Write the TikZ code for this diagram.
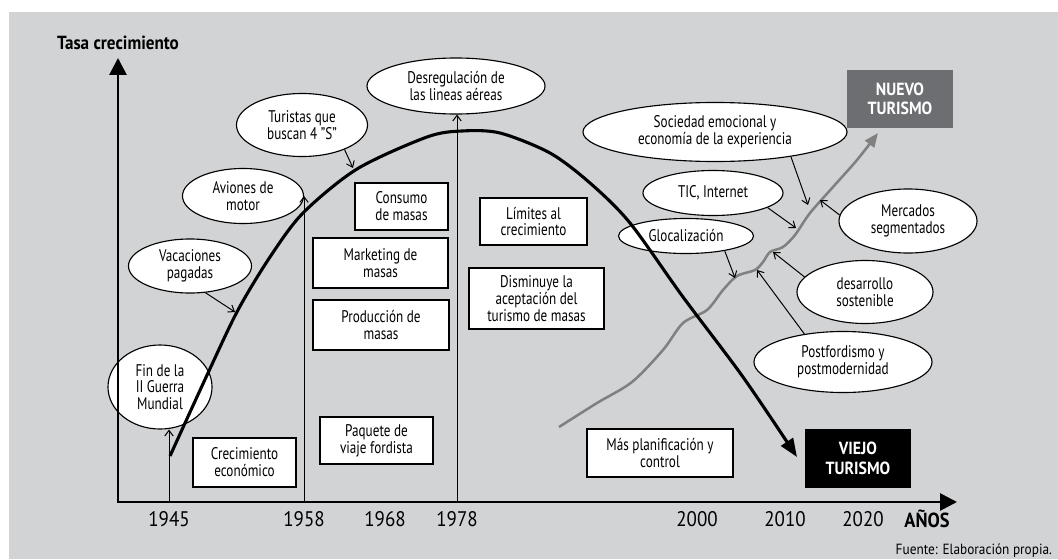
\documentclass[tikz,border=0pt]{standalone}
\usepackage{fontspec}
\setmainfont{PT Sans}[FakeStretch=0.78]
\newfontfamily\anchafont{PT Sans}[FakeStretch=0.9]
\usetikzlibrary{shapes.geometric,arrows.meta}
\definecolor{fondo}{HTML}{D1D3D4}
\definecolor{grisnuevo}{HTML}{6D6E71}
\definecolor{griscurva}{HTML}{808080}

\begin{document}
\begin{tikzpicture}[
    x=0.025cm, y=-0.025cm,
    eje/.style={line width=2pt, {Triangle[length=12pt,width=12pt]}-{Triangle[length=12pt,width=12pt]}},
    burbuja/.style={ellipse, draw, fill=white, line width=0.8pt, inner sep=0pt, align=center, font=\fontsize{12}{12}\selectfont},
    caja/.style={rectangle, draw, fill=white, line width=0.8pt, inner sep=0pt, align=center, font=\fontsize{12}{12}\selectfont},
    etapa/.style={rectangle, inner sep=0pt, align=center, text=white, minimum width=2.65cm, font=\anchafont\fontsize{12.5}{14}\selectfont\bfseries},
    anio/.style={font=\anchafont\fontsize{15}{17}\selectfont},
    flecha/.style={line width=0.7pt, -{Straight Barb[length=4pt,width=6pt]}}
]
    % Fondo
    \useasboundingbox (0,0) rectangle (1058,559);
    \fill[fondo] (9,12) rectangle (1058,559);

    % Burbujas
    \node[burbuja, minimum width=2.6cm, minimum height=2.1cm] (guerra) at (160,387) {Fin de la\\II Guerra\\Mundial};
    \node[burbuja, minimum width=3.075cm, minimum height=1.35cm] (vacaciones) at (190,266) {Vacaciones\\pagadas};
    \node[burbuja, minimum width=3.025cm, minimum height=1.375cm] (aviones) at (243,196) {Aviones de\\motor};
    \node[burbuja, minimum width=3.275cm, minimum height=1.575cm] (turistas) at (302,125) {Turistas que\\buscan 4 "S"};
    \node[burbuja, minimum width=4.45cm, minimum height=1.4cm] (desregulacion) at (456,86) {Desregulación de\\las lineas aéreas};
    \node[burbuja, minimum width=6.6cm, minimum height=1.475cm] (sociedad) at (715,132) {Sociedad emocional y\\economía de la experiencia};
    \node[burbuja, minimum width=3.5cm, minimum height=1.125cm] (tic) at (713,193) {TIC, Internet};
    \node[burbuja, minimum width=3.375cm, minimum height=0.875cm] (glocal) at (686,236) {Glocalización};
    \node[burbuja, minimum width=3.45cm, minimum height=1.6cm] (mercados) at (908,221) {Mercados\\segmentados};
    \node[burbuja, minimum width=3.4cm, minimum height=1.575cm] (desarrollo) at (865,292) {desarrollo\\sostenible};
    \node[burbuja, minimum width=4.45cm, minimum height=1.525cm] (postford) at (843,362) {Postfordismo y\\postmodernidad};

    % Cajas
    \node[caja, minimum width=2.325cm, minimum height=1.175cm] (consumo) at (401.5,206.5) {Consumo\\de masas};
    \node[caja, minimum width=3.375cm, minimum height=1.25cm] (marketing) at (380.5,263) {Marketing de\\masas};
    \node[caja, minimum width=3.4cm, minimum height=1.25cm] (produccion) at (381,325) {Producción de\\masas};
    \node[caja, minimum width=2.675cm, minimum height=1.175cm] (limites) at (533.5,221.5) {Límites al\\crecimiento};
    \node[caja, minimum width=3.375cm, minimum height=1.525cm] (disminuye) at (536.5,298.5) {Disminuye la\\aceptación del\\turismo de masas};
    \node[caja, minimum width=2.575cm, minimum height=1.225cm] (crecimiento) at (244.5,462.5) {Crecimiento\\económico};
    \node[caja, minimum width=2.825cm, minimum height=1.175cm] (paquete) at (376.5,440.5) {Paquete de\\viaje fordista};
    \node[caja, minimum width=3.65cm, minimum height=1.2cm] (planificacion) at (660,453) {Más planificación y\\control};

    \node[etapa, fill=grisnuevo, minimum height=1.45cm] (nuevo) at (900,99) {NUEVO\\TURISMO};
    \node[etapa, fill=black, minimum height=1.475cm] (viejo) at (858,458.5) {VIEJO\\TURISMO};

    % Ejes
    \coordinate (tope) at (118,58);
    \coordinate (origen) at (118,502);
    \coordinate (final) at (957,502);
    \draw[eje] (tope) -- (origen) -- (final);
    \node[font=\anchafont\fontsize{13.5}{16}\selectfont\bfseries] (tasa) at (118,43) {Tasa crecimiento};
    \node[anio, font=\anchafont\fontsize{14.5}{16}\selectfont\bfseries] (anos) at (927,519) {AÑOS};

    % Años
    \node[anio] (a1945) at (169,519) {1945};
    \node[anio] (a1958) at (304,519) {1958};
    \node[anio] (a1968) at (385,519) {1968};
    \node[anio] (a1978) at (457,519) {1978};
    \node[anio] (a2000) at (697,519) {2000};
    \node[anio] (a2010) at (785,519) {2010};
    \node[anio] (a2020) at (863,519) {2020};

    \coordinate (t1945) at (169,502);
    \coordinate (t1958) at (304,502);
    \coordinate (t1978) at (457,502);
    \draw[flecha] (t1945) -- (t1945 |- guerra.south);
    \draw[flecha] (t1958) -- (t1958 |- aviones.east);
    \draw[flecha] (t1978) -- (t1978 |- desregulacion.south);

    % Curva del nuevo turismo
    \draw[griscurva, line width=1.8pt, -{Triangle[length=10pt,width=8pt]}] plot[smooth] coordinates {(559,427) (597,403) (632,382) (663,350) (683,323) (707,310) (723,290) (737,276) (755,270) (763,262) (770,252) (783,247) (795,235) (810,213) (833,187) (857,160) (878,133)};

    % Curva del viejo turismo
    \draw[line width=2.2pt, -{Triangle[length=13pt,width=10pt]}] plot[smooth] coordinates {(170,456) (208,373) (238,310) (270,257) (303,213) (357,169) (427,137) (462,131) (500,133) (550,153) (590,183) (630,223) (683,297) (743,377) (797,457)};

    % Flechas de las burbujas
    \coordinate (p4s) at (353,168);
    \coordinate (pvac) at (235,312);
    \coordinate (psoc) at (808,205);
    \coordinate (ptic) at (796,228);
    \coordinate (pglo) at (735,278);
    \coordinate (pmer) at (820,200);
    \coordinate (pdes) at (773,252);
    \coordinate (ppos) at (757,270);
    \draw[flecha] (turistas.-30) -- (p4s);
    \draw[flecha] (vacaciones.-60) -- (pvac);
    \draw[flecha] (sociedad.-18) -- (psoc);
    \draw[flecha] (tic.-15) -- (ptic);
    \draw[flecha] (glocal.-21) -- (pglo);
    \draw[flecha] (mercados.175) -- (pmer);
    \draw[flecha] (desarrollo.166) -- (pdes);
    \draw[flecha] (postford.144) -- (ppos);

    \node[anchor=east, font=\anchafont\fontsize{10.5}{12}\selectfont] (fuente) at (1057,551) {Fuente: Elaboración propia.};
\end{tikzpicture}
\end{document}
